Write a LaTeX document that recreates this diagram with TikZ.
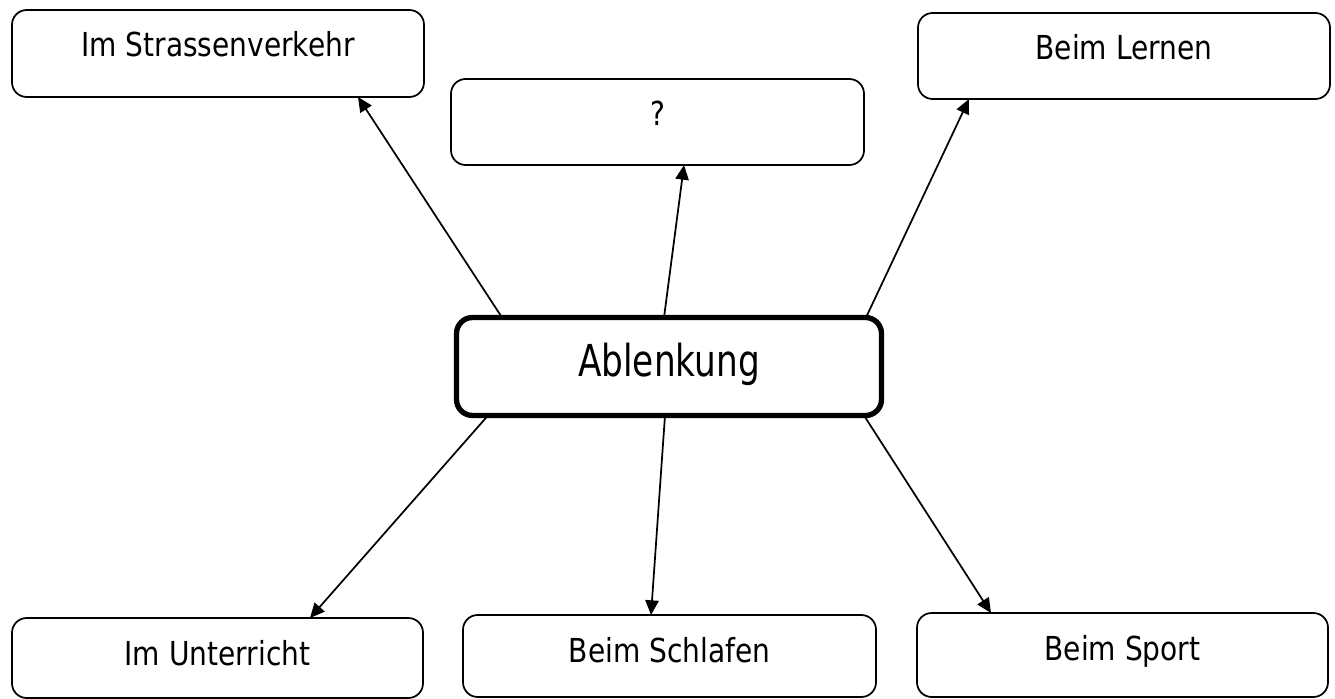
\documentclass[tikz,border=0pt]{standalone}
\usepackage{fontspec}
\newfontfamily\boxfont[FakeStretch=0.85]{DejaVu Sans}
\newfontfamily\bigfont[FakeStretch=0.78]{DejaVu Sans}
\usetikzlibrary{arrows.meta,calc}
\begin{document}
\begin{tikzpicture}[x=0.75pt,y=-0.75pt,
  box/.style={draw, line width=1.3pt, rounded corners=11pt, inner sep=0pt, outer sep=0pt,
    anchor=north west, align=center, text height=35.25pt,
    font=\boxfont\fontsize{24.75}{30}\selectfont},
  centre/.style={box, line width=4pt, rounded corners=12pt, text height=44.6pt, text depth=28.9pt,
    minimum width=318.75pt, minimum height=73.5pt, font=\bigfont\fontsize{33}{40}\selectfont},
  arr/.style={line width=1.3pt, -{Triangle[length=11pt,width=10pt]}}]
\useasboundingbox (0,0) rectangle (1335,699);
\node[box, minimum width=309pt, minimum height=65.25pt, text depth=30pt] (sv) at (12,10) {Im Strassenverkehr};
\node[box, minimum width=309.75pt, minimum height=64.5pt, text height=34.5pt, text depth=30pt] (q) at (451,79) {?};
\node[box, minimum width=309pt, minimum height=64.5pt, text depth=29.25pt] (ln) at (918,13) {Beim Lernen};
\node[centre] (abl) at (456.5,317.5) {Ablenkung};
\node[box, minimum width=308.25pt, minimum height=60pt, text depth=24.75pt] (un) at (12,618) {Im Unterricht};
\node[box, minimum width=309.75pt, minimum height=61.5pt, text depth=26.25pt] (sl) at (463,615) {Beim Schlafen};
\node[box, minimum width=308.25pt, minimum height=63pt, text depth=27.75pt] (sp) at (917,613) {Beim Sport};
\draw[arr] ($(abl.north west)+(45.5,0)$) -- ($(sv.south west)+(346,0)$);
\draw[arr] ($(abl.north west)+(207.5,0)$) -- ($(q.south west)+(233,0)$);
\draw[arr] ($(abl.north west)+(409.5,0)$) -- ($(ln.south west)+(51,0)$);
\draw[arr] ($(abl.south west)+(31.5,0)$) -- ($(un.north west)+(298,0)$);
\draw[arr] ($(abl.south west)+(208.5,0)$) -- ($(sl.north west)+(188,0)$);
\draw[arr] ($(abl.south west)+(407.5,0)$) -- ($(sp.north west)+(74,0)$);
\end{tikzpicture}
\end{document}
